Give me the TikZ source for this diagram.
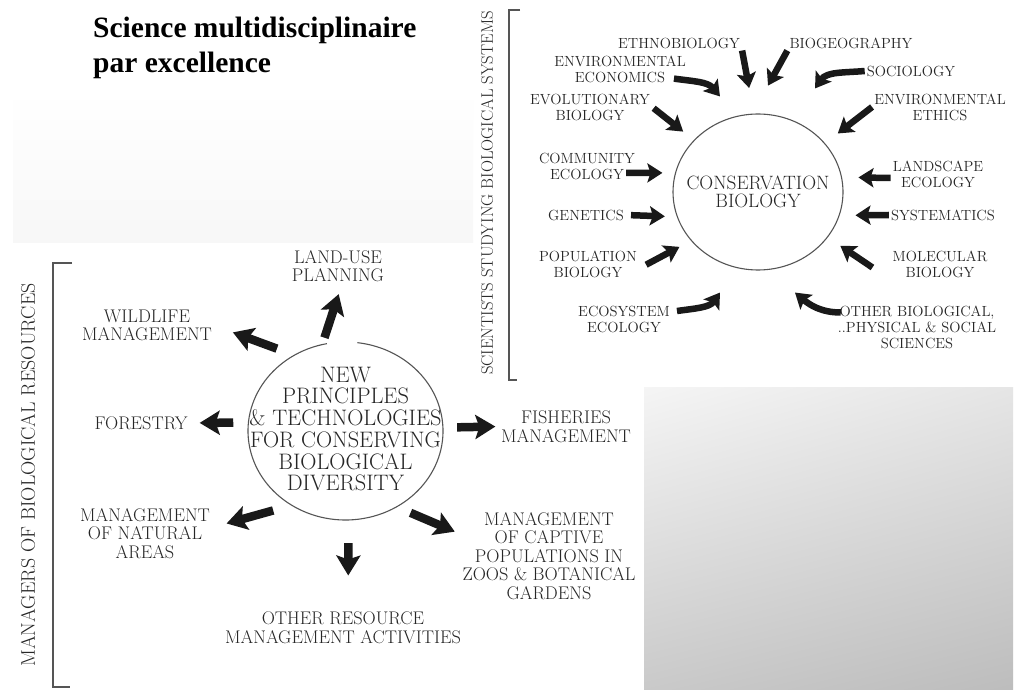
\documentclass[tikz,border=0pt]{standalone}
\usepackage{fontspec}
\newfontfamily\titlefont{Liberation Serif}
\usetikzlibrary{arrows.meta,shapes.geometric,shadings}
\definecolor{ink}{HTML}{262626}
\definecolor{rule}{HTML}{555555}

\begin{document}
\begin{tikzpicture}[x=1pt,y=1pt,
  ring/.style={ellipse,draw=rule,line width=1.1pt,inner sep=0pt},
  rlab/.style={align=center,inner sep=2pt,text=ink,
    font=\fontsize{14.7}{16}\selectfont},
  llab/.style={align=center,inner sep=2pt,text=ink,
    font=\fontsize{18.3}{18.5}\selectfont},
  rarr/.style={black!90,line width=6.5pt,
    -{Stealth[length=15pt,width=19pt,inset=3pt]}},
  larr/.style={black!90,line width=8.5pt,
    -{Stealth[length=20pt,width=24pt,inset=4pt]}}]
\fill[white] (0,0) rectangle (1022,689);
\useasboundingbox (0,0) rectangle (1022,689);
% faint scan backgrounds
\shade[top color=white,bottom color=gray!6] (13,446) rectangle (473,599);
\shade[upper left=gray!8,upper right=gray!20,lower left=gray!42,
  lower right=gray!52] (644,0) rectangle (1013,302);
\node[anchor=north west,inner sep=0pt,align=left,
  font=\titlefont\bfseries\fontsize{29.5}{35}\selectfont] (title)
  at (93,672) {Science multidisciplinaire\\par excellence};
% scientists studying biological systems
\draw[rule,line width=1.4pt] (520,679) -- (509,679) -- (509,309) -- (517,309);
\node[rotate=90,text=ink,font=\fontsize{16.7}{18}\selectfont] (sci)
  at (487,496) {SCIENTISTS STUDYING BIOLOGICAL SYSTEMS};
\node[ring,minimum width=170pt,minimum height=156pt] (cons) at (758,497) {};
\node[align=center,text=ink,font=\fontsize{19.3}{18.5}\selectfont] (consT)
  at (cons.center) {CONSERVATION\\BIOLOGY};
\foreach \nm/\x/\y/\txt in {ethno/679/646/ETHNOBIOLOGY,
  biogeo/851/646/BIOGEOGRAPHY,enveco/620/620/{ENVIRONMENTAL\\ECONOMICS},
  socio/911/618/SOCIOLOGY,evol/590/582/{EVOLUTIONARY\\BIOLOGY},
  ethics/940/582/{ENVIRONMENTAL\\ETHICS},commun/587/522.5/{COMMUNITY\\ECOLOGY},
  landsc/938/515/{LANDSCAPE\\ECOLOGY},genet/586/474/GENETICS,
  system/943/474/SYSTEMATICS,popul/588/424.5/{POPULATION\\BIOLOGY},
  molec/940/424.5/{MOLECULAR\\BIOLOGY},ecosys/624/370/{ECOSYSTEM\\ECOLOGY},
  other/917/361.5/{OTHER BIOLOGICAL,\\..PHYSICAL \& SOCIAL\\SCIENCES}}{
  \node[rlab] (\nm) at (\x,\y) {\txt};
}
\coordinate (ecoTip) at ([shift={(-38,17)}]cons.north);
\coordinate (socTip) at ([shift={(57,25)}]cons.north);
\coordinate (ecsTip) at ([shift={(-38,-22)}]cons.south);
\coordinate (othTip) at ([shift={(37,-22)}]cons.south);
\draw[rarr,shorten >=26pt] (ethno.south east) -- (cons.93);
\draw[rarr,shorten >=32pt] (biogeo.south west) -- (cons.94);
\draw[rarr] ([xshift=-14pt,yshift=6pt]enveco.south east) to[out=-8,in=130] (ecoTip);
\draw[rarr] (socio.west) to[out=185,in=55] (socTip);
\draw[rarr,shorten <=2pt,shorten >=13.6pt] (evol.east) -- (cons.141);
\draw[rarr,shorten >=16pt] (ethics.west) -- (cons.36);
\draw[rarr,shorten >=12.6pt] ([xshift=-11pt,yshift=-6.5pt]commun.east) -- (cons.167);
\draw[rarr,shorten >=16.4pt] ([yshift=-4pt]landsc.west) -- (cons.10);
\draw[rarr,shorten <=5pt,shorten >=12pt] (genet.east) -- (cons.197);
\draw[rarr,shorten >=15.8pt] (system.west) -- (cons.-16);
\draw[rarr,shorten <=8pt,shorten >=13pt] ([yshift=-4pt]popul.east) -- (cons.216);
\draw[rarr,shorten >=15pt] ([xshift=-18pt,yshift=-3pt]molec.west) -- (cons.-33);
\draw[rarr] ([xshift=5pt,yshift=8pt]ecosys.east) to[out=8,in=235] (ecsTip);
\draw[rarr] ([xshift=5pt,yshift=15pt]other.west) to[out=180,in=-40] (othTip);
% managers of biological resources
\draw[rule,line width=1.4pt] (72,426) -- (53,426) -- (53,2) -- (70,2);
\node[rotate=90,text=ink,font=\fontsize{19.8}{20}\selectfont] (mgr)
  at (28,214) {MANAGERS OF BIOLOGICAL RESOURCES};
\node[ellipse,minimum width=195pt,minimum height=178pt,inner sep=0pt] (ndiv)
  at (345.5,258) {};
\draw[rule,line width=1.1pt] (ndiv.center) ++(101:97.5 and 89)
  arc[start angle=101,end angle=443,x radius=97.5,y radius=89];
\node[align=center,text=ink,font=\fontsize{22.4}{21.7}\selectfont] (ndivT)
  at (345.5,260) {NEW\\PRINCIPLES\\\& TECHNOLOGIES\\FOR CONSERVING\\BIOLOGICAL\\DIVERSITY};
\foreach \nm/\x/\y/\txt in {landuse/338/423/{LAND-USE\\PLANNING},
  wildlife/147/363.5/{WILDLIFE\\MANAGEMENT},forestry/141/266/FORESTRY,
  natural/145/155.5/{MANAGEMENT\\OF NATURAL\\AREAS},
  otherres/343/61.5/{OTHER RESOURCE\\MANAGEMENT ACTIVITIES},
  fisheries/566/262.5/{FISHERIES\\MANAGEMENT},
  captive/549/133/{MANAGEMENT\\OF CAPTIVE\\POPULATIONS IN\\ZOOS \& BOTANICAL\\GARDENS}}{
  \node[llab] (\nm) at (\x,\y) {\txt};
}
\draw[larr,shorten <=7pt,shorten >=10.6pt] (ndiv.105) -- ([xshift=4pt]landuse.south);
\draw[larr,shorten <=18.5pt,shorten >=20pt] (ndiv.124) -- (wildlife.east);
\draw[larr,shorten <=15pt,shorten >=10pt] (ndiv.175) -- (forestry.east);
\draw[larr,shorten <=19pt,shorten >=15pt] (ndiv.234) -- ([yshift=6pt]natural.east);
\draw[larr,shorten <=23pt,shorten >=34pt] (ndiv.-88) -- ([xshift=5pt]otherres.north);
\draw[larr,shorten <=14pt,shorten >=3.5pt] (ndiv.2) -- (fisheries.west);
\draw[larr,shorten <=15pt,shorten >=6pt] (ndiv.-56) -- ([yshift=22pt]captive.west);
\end{tikzpicture}
\end{document}
